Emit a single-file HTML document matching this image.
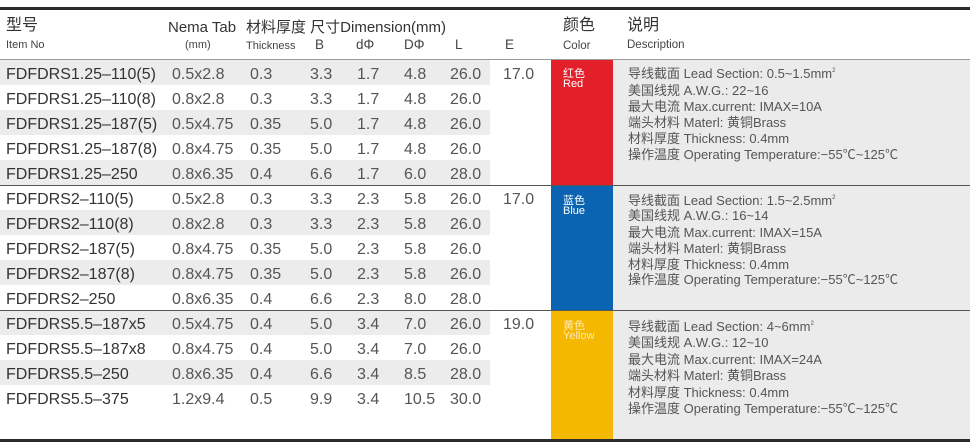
<!DOCTYPE html>
<html><head><meta charset="utf-8">
<style>
*{margin:0;padding:0;box-sizing:border-box}
html,body{width:970px;height:446px;background:#fff;overflow:hidden}
body{position:relative;font-family:"Liberation Sans","Noto Sans CJK SC",sans-serif}
.a{position:absolute;white-space:nowrap}
.bg{position:absolute}
.h1{font-size:15px;color:#333;line-height:16px}
.h2{font-size:11px;color:#444;line-height:12px}
.h3{font-size:13.5px;color:#444;line-height:14px}
.r{position:absolute;left:0;width:970px;height:25px;line-height:25px;font-size:16px}
.r span{position:absolute;top:0;white-space:nowrap;color:#555}
.r span.n{color:#333;left:6px}
.c1{left:172px}.c2{left:250px}.c3{left:310px}.c4{left:357px}.c5{left:404px}.c6{left:450px}.c7{left:503px}
.cl{position:absolute;left:563px;font-size:11px;line-height:10px;color:#fff}
.d{position:absolute;left:628px;font-size:13px;line-height:16px;color:#555;white-space:nowrap}
sup{font-size:6px;vertical-align:top;position:relative;top:-3px}
</style></head><body>
<!-- stripes -->
<div class="bg" style="left:0;top:60px;width:490px;height:25px;background:#ececec"></div>
<div class="bg" style="left:0;top:110px;width:490px;height:25px;background:#ececec"></div>
<div class="bg" style="left:0;top:160px;width:490px;height:25px;background:#ececec"></div>
<div class="bg" style="left:0;top:210px;width:490px;height:25px;background:#ececec"></div>
<div class="bg" style="left:0;top:260px;width:490px;height:25px;background:#ececec"></div>
<div class="bg" style="left:0;top:311px;width:490px;height:24px;background:#ececec"></div>
<div class="bg" style="left:0;top:360px;width:490px;height:25px;background:#ececec"></div>
<!-- description bg -->
<div class="bg" style="left:613px;top:60px;width:357px;height:379px;background:#ebebeb"></div>
<!-- color blocks -->
<div class="bg" style="left:551px;top:60px;width:62px;height:125px;background:#e3202a"></div>
<div class="bg" style="left:551px;top:186px;width:62px;height:124px;background:#0b64b1"></div>
<div class="bg" style="left:551px;top:311px;width:62px;height:128px;background:#f5b800"></div>
<!-- lines -->
<div class="bg" style="left:0;top:7px;width:970px;height:3px;background:#2b2b2b"></div>
<div class="bg" style="left:0;top:59px;width:970px;height:1px;background:#9a9a9a"></div>
<div class="bg" style="left:0;top:185px;width:970px;height:1px;background:#555"></div>
<div class="bg" style="left:0;top:310px;width:970px;height:1px;background:#555"></div>
<div class="bg" style="left:0;top:439px;width:970px;height:3px;background:#2b2b2b"></div>

<!-- header -->
<div class="a h1" style="left:6px;top:18px;font-size:16px">型号</div>
<div class="a h2" style="left:6px;top:39px">Item No</div>
<div class="a h1" style="left:168px;top:20px">Nema Tab</div>
<div class="a h2" style="left:185px;top:39px">(mm)</div>
<div class="a h1" style="left:246px;top:20px">材料厚度 尺寸Dimension(mm)</div>
<div class="a h2" style="left:246px;top:40px">Thickness</div>
<div class="a h3" style="left:315px;top:38px">B</div>
<div class="a h3" style="left:356px;top:38px">dΦ</div>
<div class="a h3" style="left:404px;top:38px">DΦ</div>
<div class="a h3" style="left:455px;top:38px">L</div>
<div class="a h3" style="left:505px;top:38px">E</div>
<div class="a h1" style="left:563px;top:18px;font-size:16px">颜色</div>
<div class="a h2" style="left:563px;top:40px;font-size:11.5px">Color</div>
<div class="a h1" style="left:627px;top:18px;font-size:16px">说明</div>
<div class="a h2" style="left:627px;top:39px;font-size:11.5px">Description</div>

<!-- rows -->
<div class="r" style="top:61.5px"><span class="n">FDFDRS1.25–110(5)</span><span class="c1">0.5x2.8</span><span class="c2">0.3</span><span class="c3">3.3</span><span class="c4">1.7</span><span class="c5">4.8</span><span class="c6">26.0</span><span class="c7">17.0</span></div>
<div class="r" style="top:86.5px"><span class="n">FDFDRS1.25–110(8)</span><span class="c1">0.8x2.8</span><span class="c2">0.3</span><span class="c3">3.3</span><span class="c4">1.7</span><span class="c5">4.8</span><span class="c6">26.0</span></div>
<div class="r" style="top:111.5px"><span class="n">FDFDRS1.25–187(5)</span><span class="c1">0.5x4.75</span><span class="c2">0.35</span><span class="c3">5.0</span><span class="c4">1.7</span><span class="c5">4.8</span><span class="c6">26.0</span></div>
<div class="r" style="top:136.5px"><span class="n">FDFDRS1.25–187(8)</span><span class="c1">0.8x4.75</span><span class="c2">0.35</span><span class="c3">5.0</span><span class="c4">1.7</span><span class="c5">4.8</span><span class="c6">26.0</span></div>
<div class="r" style="top:161.5px"><span class="n">FDFDRS1.25–250</span><span class="c1">0.8x6.35</span><span class="c2">0.4</span><span class="c3">6.6</span><span class="c4">1.7</span><span class="c5">6.0</span><span class="c6">28.0</span></div>

<div class="r" style="top:186.5px"><span class="n">FDFDRS2–110(5)</span><span class="c1">0.5x2.8</span><span class="c2">0.3</span><span class="c3">3.3</span><span class="c4">2.3</span><span class="c5">5.8</span><span class="c6">26.0</span><span class="c7">17.0</span></div>
<div class="r" style="top:211.5px"><span class="n">FDFDRS2–110(8)</span><span class="c1">0.8x2.8</span><span class="c2">0.3</span><span class="c3">3.3</span><span class="c4">2.3</span><span class="c5">5.8</span><span class="c6">26.0</span></div>
<div class="r" style="top:236.5px"><span class="n">FDFDRS2–187(5)</span><span class="c1">0.8x4.75</span><span class="c2">0.35</span><span class="c3">5.0</span><span class="c4">2.3</span><span class="c5">5.8</span><span class="c6">26.0</span></div>
<div class="r" style="top:261.5px"><span class="n">FDFDRS2–187(8)</span><span class="c1">0.8x4.75</span><span class="c2">0.35</span><span class="c3">5.0</span><span class="c4">2.3</span><span class="c5">5.8</span><span class="c6">26.0</span></div>
<div class="r" style="top:286.5px"><span class="n">FDFDRS2–250</span><span class="c1">0.8x6.35</span><span class="c2">0.4</span><span class="c3">6.6</span><span class="c4">2.3</span><span class="c5">8.0</span><span class="c6">28.0</span></div>

<div class="r" style="top:311.5px"><span class="n">FDFDRS5.5–187x5</span><span class="c1">0.5x4.75</span><span class="c2">0.4</span><span class="c3">5.0</span><span class="c4">3.4</span><span class="c5">7.0</span><span class="c6">26.0</span><span class="c7">19.0</span></div>
<div class="r" style="top:336.5px"><span class="n">FDFDRS5.5–187x8</span><span class="c1">0.8x4.75</span><span class="c2">0.4</span><span class="c3">5.0</span><span class="c4">3.4</span><span class="c5">7.0</span><span class="c6">26.0</span></div>
<div class="r" style="top:361.5px"><span class="n">FDFDRS5.5–250</span><span class="c1">0.8x6.35</span><span class="c2">0.4</span><span class="c3">6.6</span><span class="c4">3.4</span><span class="c5">8.5</span><span class="c6">28.0</span></div>
<div class="r" style="top:386.5px"><span class="n">FDFDRS5.5–375</span><span class="c1">1.2x9.4</span><span class="c2">0.5</span><span class="c3">9.9</span><span class="c4">3.4</span><span class="c5">10.5</span><span class="c6">30.0</span></div>

<!-- color labels -->
<div class="cl" style="top:68.5px">红色<br>Red</div>
<div class="cl" style="top:196px">蓝色<br>Blue</div>
<div class="cl" style="top:321px;color:#fde9b0">黄色<br>Yellow</div>

<!-- descriptions -->
<div class="d" style="top:66px">导线截面 Lead Section: 0.5~1.5mm<sup>2</sup></div>
<div class="d" style="top:83px">美国线规 A.W.G.: 22~16</div>
<div class="d" style="top:99px">最大电流 Max.current: IMAX=10A</div>
<div class="d" style="top:115px">端头材料 Materl: 黄铜Brass</div>
<div class="d" style="top:131px">材料厚度 Thickness: 0.4mm</div>
<div class="d" style="top:147px">操作温度 Operating Temperature:−55℃~125℃</div>

<div class="d" style="top:192.5px">导线截面 Lead Section: 1.5~2.5mm<sup>2</sup></div>
<div class="d" style="top:208px">美国线规 A.W.G.: 16~14</div>
<div class="d" style="top:224.5px">最大电流 Max.current: IMAX=15A</div>
<div class="d" style="top:241px">端头材料 Materl: 黄铜Brass</div>
<div class="d" style="top:257px">材料厚度 Thickness: 0.4mm</div>
<div class="d" style="top:272px">操作温度 Operating Temperature:−55℃~125℃</div>

<div class="d" style="top:318.5px">导线截面 Lead Section: 4~6mm<sup>2</sup></div>
<div class="d" style="top:335px">美国线规 A.W.G.: 12~10</div>
<div class="d" style="top:352px">最大电流 Max.current: IMAX=24A</div>
<div class="d" style="top:368px">端头材料 Materl: 黄铜Brass</div>
<div class="d" style="top:384.5px">材料厚度 Thickness: 0.4mm</div>
<div class="d" style="top:401px">操作温度 Operating Temperature:−55℃~125℃</div>
</body></html>
